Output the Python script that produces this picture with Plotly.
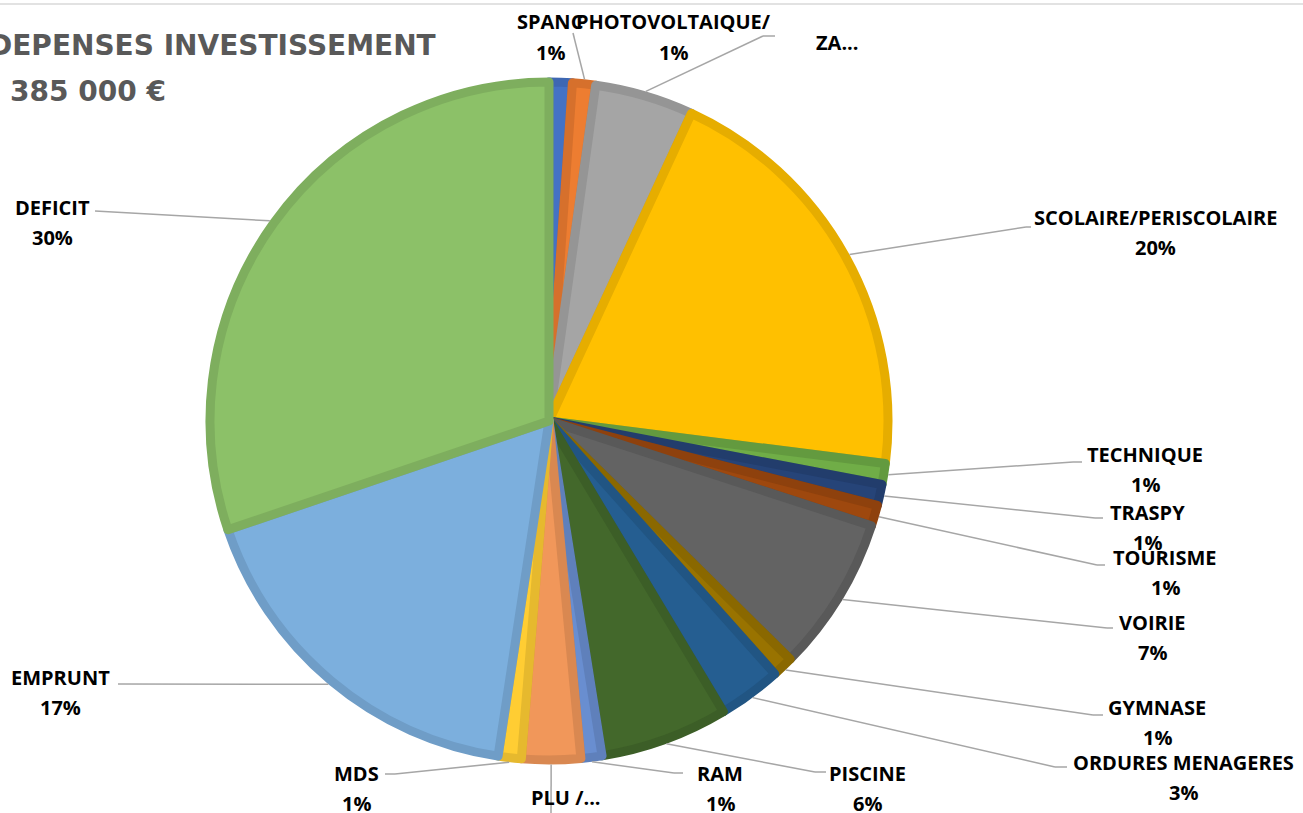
import numpy as np
import plotly.graph_objects as go

# ---- data ----
categories = ["SPANC", "PHOTOVOLTAIQUE/", "ZA...", "SCOLAIRE/PERISCOLAIRE", "TECHNIQUE",
              "TRASPY", "TOURISME", "VOIRIE", "GYMNASE", "ORDURES MENAGERES", "PISCINE",
              "RAM", "PLU /...", "MDS", "EMPRUNT", "DEFICIT"]
values = [1.1, 1.1, 4.7, 20.1, 1.0, 1.0, 1.0, 7.4, 1.0, 3.0, 6.1, 1.0, 2.8, 1.1, 17.4, 30.2]
show_pct = [True, True, False, True, True, True, True, True, True, True, True,
            True, False, True, True, True]
fill_colors = ["#4472C4", "#ED7D31", "#A5A5A5", "#FFC000", "#70AD47", "#264478", "#9E480E",
               "#636363", "#997300", "#255E91", "#43682B", "#698ED0", "#F1975A", "#FFCD33",
               "#7CAFDD", "#8CC168"]
edge_colors = ["#3E67B2", "#D6702C", "#959595", "#E6AD00", "#639A3F", "#223D6C", "#8E410D",
               "#595959", "#8A6800", "#215583", "#3C5E27", "#5F80BB", "#D98851", "#E6B92E",
               "#6F9DC7", "#7EAE5E"]
title_line1 = "DEPENSES INVESTISSEMENT"
title_line2 = "385 000 €"

# ---- layout constants (pixels) ----
W, H = 1303, 813
CX, CY, R = 549, 421, 339
LW = 9
# label anchor (center of name line) and leader line elbow / end points
label_pos = [(550, 22), (673, 22), (838, 43), (1155, 218), (1145, 454), (1147, 512),
             (1165, 557), (1152, 622), (1157, 707), (1183, 762), (868, 773), (720, 773),
             (566, 797), (357, 773), (60, 677), (52, 207)]
leader = [None, [(573, 33)], [(763, 36), (775, 36)], [(1026, 227), (1031, 227)],
          [(1073, 462), (1082, 462)], [(1095, 518), (1103, 518)], [(1097, 565), (1105, 565)],
          [(1107, 628), (1113, 628)], [(1093, 715), (1103, 715)], [(1055, 767), (1067, 767)],
          [(815, 772), (826, 772)], [(674, 773), (683, 773)], [(551, 820)],
          [(395, 774), (385, 774)], [(118, 684)], [(95, 211)]]


def px(x, y):
    return x / W, 1 - y / H


fig = go.Figure()
fig.add_trace(go.Pie(
    labels=categories, values=values, sort=False, direction="clockwise", rotation=0,
    marker=dict(colors=fill_colors, line=dict(color=edge_colors, width=LW)),
    textinfo="none", hoverinfo="label+percent", showlegend=False,
    domain=dict(x=[(CX - R) / W, (CX + R) / W], y=[1 - (CY + R) / H, 1 - (CY - R) / H]),
))

total = sum(values)
cum = np.cumsum([0] + values)
shapes = [dict(type="line", xref="paper", yref="paper", x0=0, x1=1,
               y0=1 - 4 / H, y1=1 - 4 / H, line=dict(color="#D9D9D9", width=1.5))]
annotations = []
font = dict(family="Open Sans", size=20, color="#000000", weight="bold")
Redge = R + LW / 2
for i, name in enumerate(categories):
    mid = (cum[i] + values[i] / 2) / total * 2 * np.pi
    ex, ey = CX + Redge * np.sin(mid), CY - Redge * np.cos(mid)
    if leader[i]:
        pts = [(ex, ey)] + leader[i]
        for (x0, y0), (x1, y1) in zip(pts[:-1], pts[1:]):
            a0, b0 = px(x0, y0)
            a1, b1 = px(x1, y1)
            shapes.append(dict(type="line", xref="paper", yref="paper", x0=a0, y0=b0,
                               x1=a1, y1=b1, line=dict(color="#A6A6A6", width=1.5)))
    lx, ly = label_pos[i]
    ax, ay = px(lx, ly)
    annotations.append(dict(text=name, x=ax, y=ay, xref="paper", yref="paper",
                            showarrow=False, xanchor="center", yanchor="middle", font=font))
    if show_pct[i]:
        pct = f"{round(values[i] / total * 100)}%"
        bx, by = px(lx, ly + 30)
        annotations.append(dict(text=pct, x=bx, y=by, xref="paper", yref="paper",
                                showarrow=False, xanchor="center", yanchor="middle", font=font))

tfont = dict(family="DejaVu Sans", size=28, color="#595959", weight="bold")
tx, ty = px(438, 45)
annotations.append(dict(text=title_line1, x=tx, y=ty, xref="paper", yref="paper",
                        showarrow=False, xanchor="right", yanchor="middle", font=tfont))
tx, ty = px(8, 91)
annotations.append(dict(text=title_line2, x=tx, y=ty, xref="paper", yref="paper",
                        showarrow=False, xanchor="left", yanchor="middle", font=tfont))

fig.update_layout(width=W, height=H, margin=dict(l=0, r=0, t=0, b=0),
                  paper_bgcolor="white", plot_bgcolor="white",
                  shapes=shapes, annotations=annotations)
fig.write_html("out.html", config={"displayModeBar": False},
               post_script="document.body.style.margin='0';document.body.style.overflow='hidden';")
